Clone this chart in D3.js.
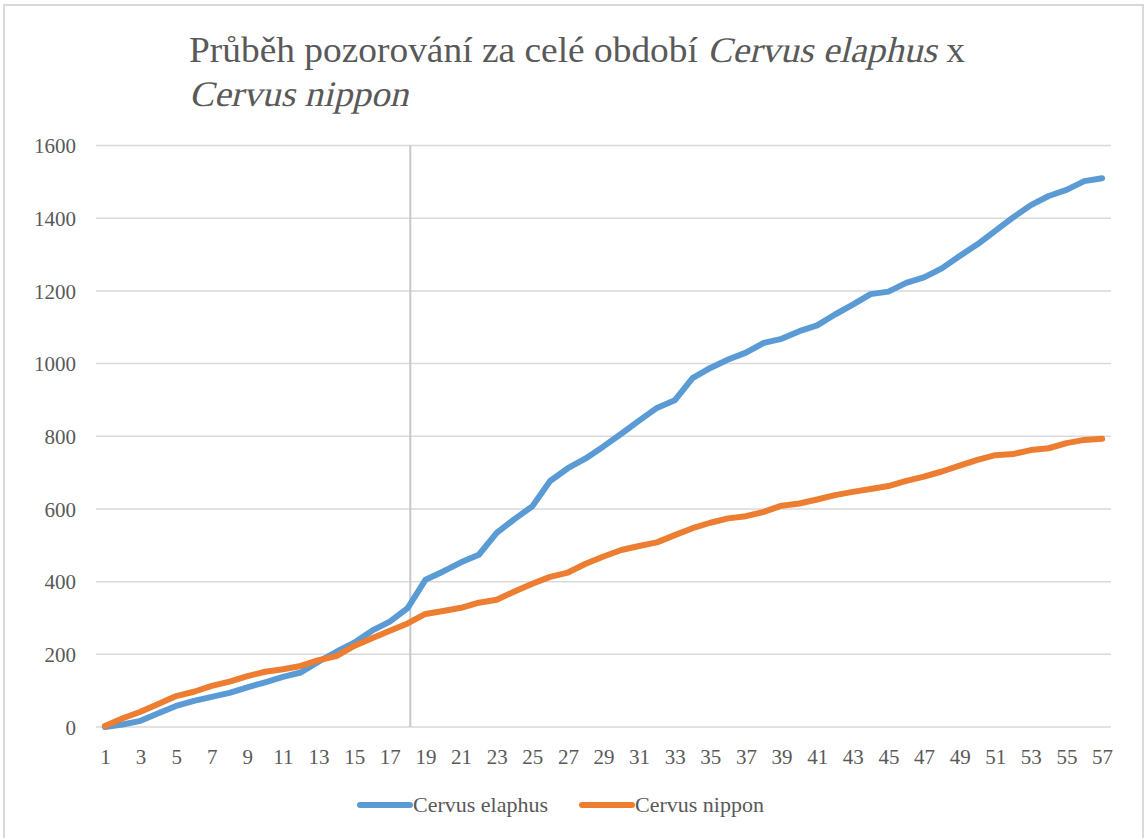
<!DOCTYPE html>
<html>
<head>
<meta charset="utf-8">
<script src="https://cdn.jsdelivr.net/npm/d3@7"></script>
<style>
  body { margin: 0; background: #fff; }
  svg { display: block; font-family: "Liberation Serif", "Times New Roman", serif; }
</style>
</head>
<body>
<svg></svg>
<script>
// observation number 1..57
var days = d3.range(1, 58);

var elaphus = [0, 7, 17, 38, 58, 72, 83, 94, 109, 123, 138, 150, 180, 207, 232, 265, 290, 327, 405,
  428, 453, 474, 534, 572, 607, 677, 712, 739, 772, 807, 843, 878, 899, 960, 988, 1011, 1030,
  1057, 1068, 1089, 1105, 1135, 1162, 1191, 1198, 1222, 1237, 1262, 1296, 1328, 1365, 1402,
  1436, 1461, 1478, 1502, 1510];

var nippon = [3, 24, 42, 63, 85, 97, 113, 125, 140, 152, 159, 168, 184, 195, 223, 244, 265, 285, 311,
  319, 328, 342, 350, 373, 394, 413, 425, 449, 469, 487, 498, 508, 528, 547, 562, 574, 580,
  592, 609, 615, 626, 638, 647, 655, 663, 677, 689, 703, 719, 735, 748, 751, 762, 767, 781,
  790, 793];

var yTicks = [0, 200, 400, 600, 800, 1000, 1200, 1400, 1600];
var seriesNames = ["Cervus elaphus", "Cervus nippon"];
var seriesColors = ["#5b9bd5", "#ed7d31"];
var markerAt = 18.15; // the grey vertical divider

// title pieces: [text, italic?]
var titleLine1 = [["Průběh pozorování za celé období ", false], ["Cervus elaphus", true], [" x", false]];
var titleLine2 = [["Cervus nippon", true]];

var w = 1148,
    h = 838;

var vis = d3.select("svg")
    .attr("width", w)
    .attr("height", h);

// chart frame (bottom edge runs off the picture)
vis.append("rect")
    .attr("x", 4).attr("y", 5)
    .attr("width", 1139).attr("height", 860)
    .attr("fill", "none")
    .attr("stroke", "#d9d9d9")
    .attr("stroke-width", 2);

var x = d3.scaleLinear().domain([0.5, 57.5]).range([96, 1111]);
var y = d3.scaleLinear().domain([0, 1600]).range([727, 145.5]);

// title, squeezed horizontally like the original; italic done with a skew
var title = vis.append("g");
var drawLine = function(pieces, base) {
  var cx = 0;
  pieces.forEach(function(p) {
    var g = title.append("g")
        .attr("transform", "translate(" + cx + "," + base + ")" + (p[1] ? " skewX(-13)" : ""));
    var t = g.append("text")
        .attr("font-family", "Liberation Serif")
        .attr("font-size", 36)
        .attr("fill", "#595959")
        .attr("xml:space", "preserve")
        .style("white-space", "pre")
        .text(p[0]);
    cx += t.node().getComputedTextLength();
  });
  return cx;
};
var tw = drawLine(titleLine1, 62);
drawLine(titleLine2, 106);
title.attr("transform", "translate(189,0) scale(" + (776 / tw) + ",1)");

// gridlines
vis.append("g")
    .selectAll("line")
    .data(yTicks)
    .enter().append("line")
    .attr("x1", x.range()[0]).attr("x2", x.range()[1])
    .attr("y1", function(d) { return y(d); })
    .attr("y2", function(d) { return y(d); })
    .attr("stroke", "#d9d9d9")
    .attr("stroke-width", 1.5);

// y axis labels
var yAxis = d3.axisLeft(y).tickValues(yTicks).tickFormat(d3.format("d")).tickSize(0).tickPadding(0);
var yg = vis.append("g")
    .attr("transform", "translate(76,0)")
    .call(yAxis);
yg.select(".domain").remove();
yg.selectAll("text")
    .attr("font-family", "Liberation Serif")
    .attr("font-size", 21)
    .attr("fill", "#595959")
    .attr("dy", "0.35em");

// x axis labels, every second category
var xAxis = d3.axisBottom(x)
    .tickValues(days.filter(function(d) { return d % 2 == 1; }))
    .tickFormat(d3.format("d"))
    .tickSize(0).tickPadding(0);
var xg = vis.append("g")
    .attr("transform", "translate(0,764)")
    .call(xAxis);
xg.select(".domain").remove();
xg.selectAll("text")
    .attr("font-family", "Liberation Serif")
    .attr("font-size", 21)
    .attr("fill", "#595959")
    .attr("dy", 0);

// vertical divider
vis.append("line")
    .attr("x1", x(markerAt)).attr("x2", x(markerAt))
    .attr("y1", y(1600)).attr("y2", y(0))
    .attr("stroke", "#c8c8c8")
    .attr("stroke-width", 2);

var line = d3.line()
    .x(function(d, i) { return x(days[i]); })
    .y(function(d) { return y(d); });

[elaphus, nippon].forEach(function(s, k) {
  vis.append("path")
      .datum(s)
      .attr("d", line)
      .attr("fill", "none")
      .attr("stroke", seriesColors[k])
      .attr("stroke-width", 6)
      .attr("stroke-linejoin", "round")
      .attr("stroke-linecap", "round");
});

// legend
var legendX = [358, 580];
seriesNames.forEach(function(name, k) {
  var g = vis.append("g").attr("transform", "translate(" + legendX[k] + ",805)");
  g.append("line")
      .attr("x1", 2).attr("x2", 52)
      .attr("stroke", seriesColors[k])
      .attr("stroke-width", 6)
      .attr("stroke-linecap", "round");
  g.append("text")
      .attr("x", 55).attr("y", 7)
      .attr("font-size", 22)
      .attr("fill", "#595959")
      .text(name);
});
</script>
</body>
</html>
